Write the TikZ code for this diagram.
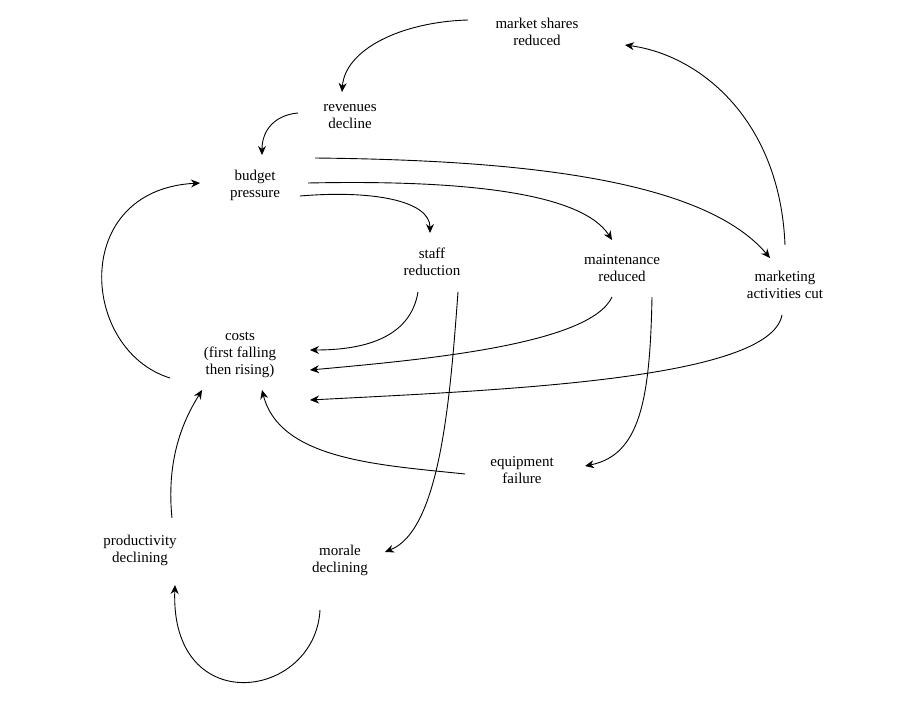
\documentclass[tikz,border=0pt]{standalone}
\usepackage{fontspec}
\setmainfont{Liberation Serif}
\usetikzlibrary{arrows.meta}
\begin{document}
\begin{tikzpicture}[x=1pt,y=-1pt,
  lbl/.style={align=center,font=\fontsize{15}{17}\selectfont,inner sep=1pt},
  arr/.style={-{Stealth[length=9pt,width=8pt]},line width=0.9pt}]
\useasboundingbox[fill=white] (0,0) rectangle (910,720);
\node[lbl] (ms) at (537,32) {market shares\\reduced};
\node[lbl] (rv) at (350,117) {revenues\\decline};
\node[lbl] (bp) at (255,185) {budget\\pressure};
\node[lbl] (sr) at (432,262) {staff\\reduction};
\node[lbl] (mr) at (622,268) {maintenance\\reduced};
\node[lbl] (mk) at (785,285) {marketing\\activities cut};
\node[lbl] (co) at (240,355) {costs\\(first falling\\then rising)};
\node[lbl] (ef) at (522,470) {equipment\\failure};
\node[lbl] (pd) at (140,550) {productivity\\declining};
\node[lbl] (md) at (340,560) {morale\\declining};
\coordinate (a1) at (468,20); \coordinate (b1) at (342,92);
\draw[arr] (a1) .. controls (400,22) and (345,50) .. (b1);
\coordinate (a2) at (298,113); \coordinate (b2) at (262,155);
\draw[arr] (a2) .. controls (275,115) and (262,130) .. (b2);
\coordinate (a3) at (300,196); \coordinate (b3) at (430,233);
\draw[arr] (a3) .. controls (370,190) and (430,200) .. (b3);
\coordinate (a4) at (308,183); \coordinate (b4) at (612,240);
\draw[arr] (a4) .. controls (450,180) and (580,190) .. (b4);
\coordinate (a5) at (315,158); \coordinate (b5) at (770,258);
\draw[arr] (a5) .. controls (500,160) and (700,175) .. (b5);
\coordinate (a6) at (418,292); \coordinate (b6) at (310,350);
\draw[arr] (a6) .. controls (410,340) and (360,350) .. (b6);
\coordinate (a7) at (458,292); \coordinate (b7) at (385,552);
\draw[arr] (a7) .. controls (450,400) and (440,530) .. (b7);
\coordinate (a8) at (612,297); \coordinate (b8) at (310,370);
\draw[arr] (a8) .. controls (590,345) and (420,360) .. (b8);
\coordinate (a9) at (652,297); \coordinate (b9) at (585,466);
\draw[arr] (a9) .. controls (650,400) and (640,455) .. (b9);
\coordinate (a10) at (782,315); \coordinate (b10) at (310,400);
\draw[arr] (a10) .. controls (770,380) and (500,390) .. (b10);
\coordinate (a11) at (785,245); \coordinate (b11) at (625,45);
\draw[arr] (a11) .. controls (780,120) and (700,55) .. (b11);
\coordinate (a12) at (465,474); \coordinate (b12) at (262,390);
\draw[arr] (a12) .. controls (380,465) and (280,460) .. (b12);
\coordinate (a13) at (170,378); \coordinate (b13) at (200,183);
\draw[arr] (a13) .. controls (80,350) and (70,190) .. (b13);
\coordinate (a14) at (172,518); \coordinate (b14) at (202,390);
\draw[arr] (a14) .. controls (165,450) and (190,410) .. (b14);
\coordinate (a15) at (320,610); \coordinate (b15) at (175,585);
\draw[arr] (a15) .. controls (315,700) and (170,720) .. (b15);
\end{tikzpicture}
\end{document}
